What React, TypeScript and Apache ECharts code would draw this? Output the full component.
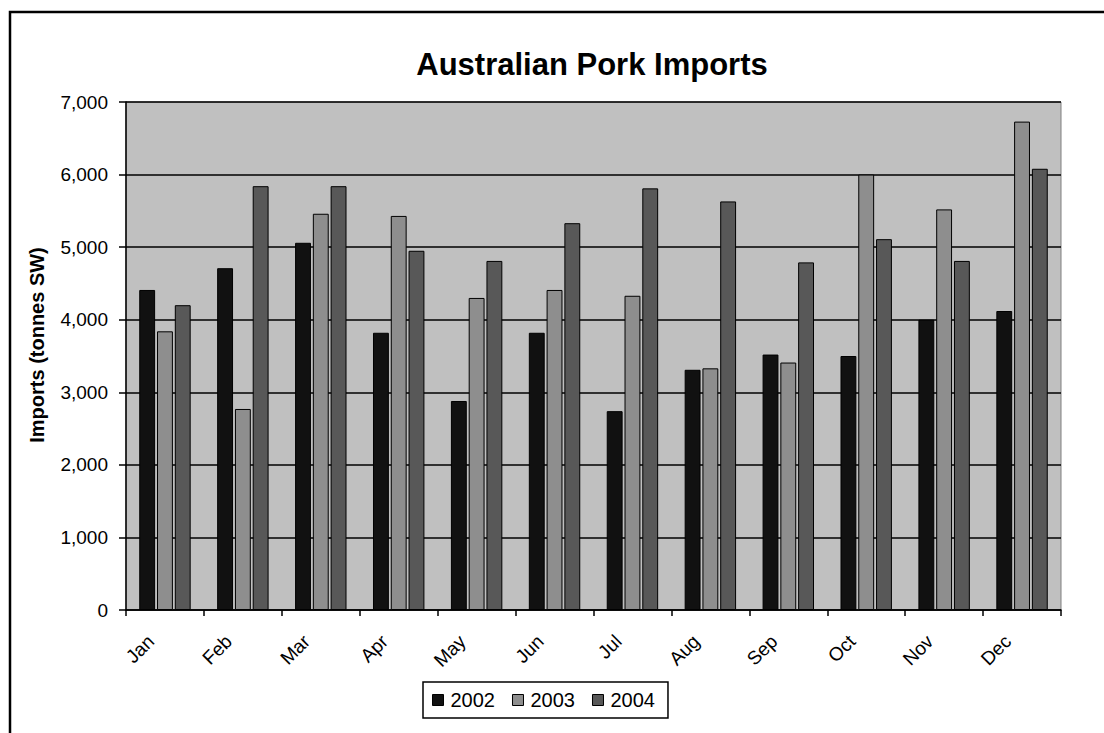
import React, { useEffect, useRef } from "react";
import * as echarts from "echarts";

const months = ["Jan", "Feb", "Mar", "Apr", "May", "Jun", "Jul", "Aug", "Sep", "Oct", "Nov", "Dec"];
const seriesNames = ["2002", "2003", "2004"];
const y2002 = [4410, 4710, 5060, 3820, 2880, 3820, 2740, 3310, 3520, 3500, 4000, 4120];
const y2003 = [3840, 2770, 5460, 5430, 4300, 4410, 4330, 3330, 3410, 6000, 5520, 6730];
const y2004 = [4200, 5840, 5840, 4950, 4810, 5330, 5810, 5630, 4790, 5110, 4810, 6080];
const yTicks = [0, 1000, 2000, 3000, 4000, 5000, 6000, 7000];
const colors = ["#111111", "#8e8e8e", "#585858"];

const FONT = 'Arial, "Liberation Sans", sans-serif';

export default function App() {
  const ref = useRef<HTMLDivElement>(null);
  useEffect(() => {
    if (!ref.current) return;
    const chart = echarts.init(ref.current, undefined, { renderer: "svg" });
    const values = [y2002, y2003, y2004];
    chart.setOption({
      animation: false,
      backgroundColor: "#ffffff",
      title: {
        text: "Australian Pork Imports",
        left: 587,
        textAlign: "center",
        top: 44,
        textStyle: { fontFamily: FONT, fontSize: 31, fontWeight: "bold", color: "#000" },
      },
      graphic: [
        {
          type: "rect",
          shape: { x: 10, y: 12, width: 1120, height: 760 },
          style: { fill: "none", stroke: "#000", lineWidth: 2.5 },
          silent: true,
          z: 10,
        },
        {
          type: "text",
          x: 37,
          y: 345,
          rotation: Math.PI / 2,
          style: {
            text: "Imports (tonnes SW)",
            font: `bold 20px ${FONT}`,
            fill: "#000",
            textAlign: "center",
            textVerticalAlign: "middle",
          },
        },
      ],
      legend: {
        data: seriesNames,
        left: 423,
        top: 682,
        orient: "horizontal",
        itemWidth: 11,
        itemHeight: 11,
        itemGap: 17,
        padding: [8, 13, 8, 9],
        borderColor: "#000",
        borderWidth: 1.5,
        icon: "rect",
        itemStyle: { borderColor: "#000", borderWidth: 1 },
        textStyle: { fontFamily: FONT, fontSize: 20, color: "#000", padding: [0, 0, 0, 2] },
      },
      grid: {
        left: 126,
        top: 102,
        width: 935,
        height: 508,
        show: true,
        backgroundColor: "#c0c0c0",
        borderColor: "#808080",
        borderWidth: 1,
        containLabel: false,
      },
      xAxis: {
        type: "category",
        data: months,
        axisLine: { lineStyle: { color: "#000", width: 1.5 } },
        axisTick: { show: true, length: 6, lineStyle: { color: "#000", width: 1.5 } },
        axisLabel: {
          rotate: 45,
          margin: 14,
          padding: [0, 20, 0, 0],
          fontFamily: FONT,
          fontSize: 19,
          color: "#000",
        },
      },
      yAxis: {
        type: "value",
        min: yTicks[0],
        max: yTicks[yTicks.length - 1],
        interval: 1000,
        axisLine: { show: true, lineStyle: { color: "#000", width: 1.5 } },
        axisTick: { show: true, length: 7, lineStyle: { color: "#000", width: 1.5 } },
        splitLine: { show: true, lineStyle: { color: "#000", width: 1.5 } },
        axisLabel: {
          margin: 18,
          fontFamily: FONT,
          fontSize: 19,
          color: "#000",
          formatter: (v: number) => v.toLocaleString("en-US"),
        },
      },
      series: seriesNames.map((name, i) => ({
        name,
        type: "bar",
        data: values[i],
        barGap: "12%",
        barCategoryGap: "34%",
        itemStyle: { color: colors[i], borderColor: "#000", borderWidth: 1 },
      })),
    });
    return () => chart.dispose();
  }, []);
  return (
    <div
      ref={ref}
      style={{ position: "absolute", left: 0, top: 0, width: 1104, height: 733 }}
    />
  );
}
